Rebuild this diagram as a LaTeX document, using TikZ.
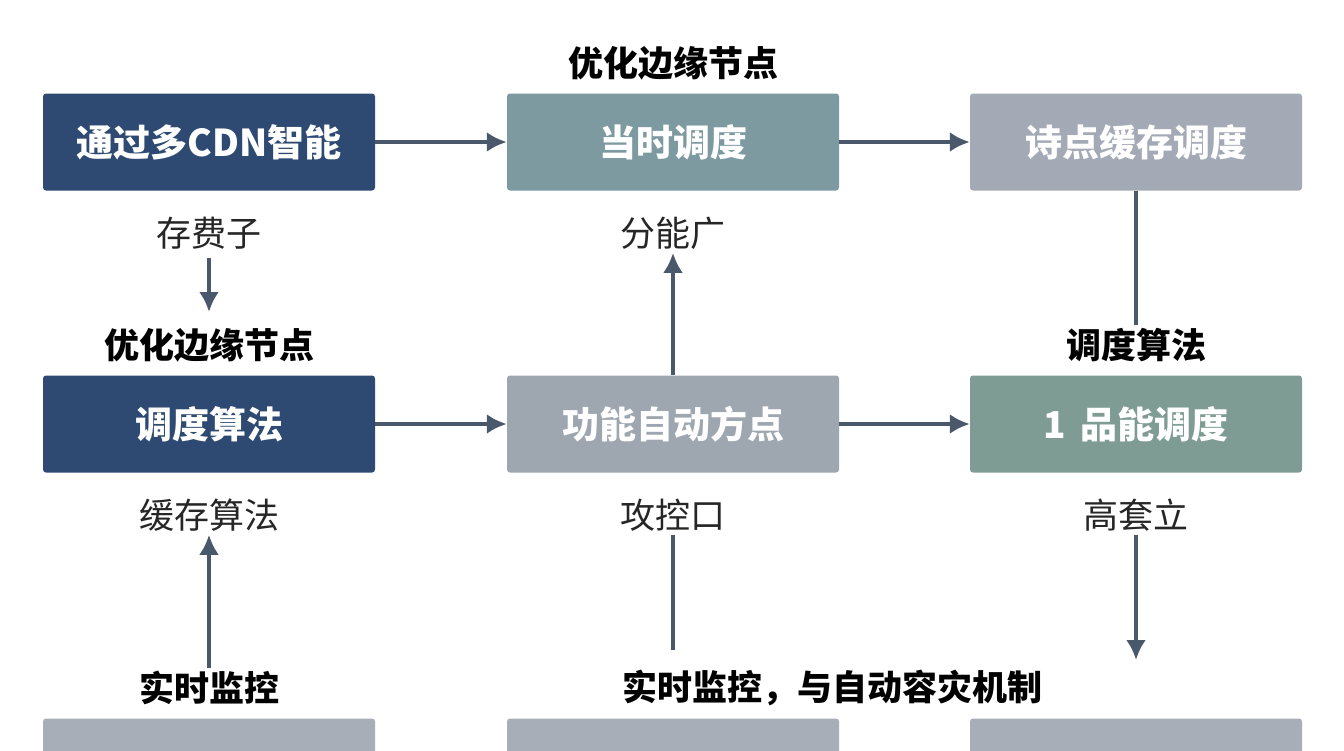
\documentclass[tikz,border=0pt]{standalone}
\usepackage{fontspec}
\usetikzlibrary{arrows.meta}
\setmainfont{Noto Sans CJK SC}
\definecolor{navy}{HTML}{2E4A72}
\definecolor{teal}{HTML}{7D9AA0}
\definecolor{lgrey}{HTML}{A3A9B5}
\definecolor{mgrey}{HTML}{9EA7B0}
\definecolor{sage}{HTML}{7F9C94}
\definecolor{bgrey}{HTML}{A8AEB8}
\definecolor{arrc}{HTML}{4A586C}
\begin{document}
\begin{tikzpicture}[x=1pt,y=-1pt,
  box/.style={rounded corners=3pt,minimum width=332pt,minimum height=97pt,inner sep=0pt,text=white,font=\fontsize{37}{40}\selectfont\bfseries},
  lab/.style={font=\fontsize{35}{38}\selectfont,text=black!85},
  blab/.style={font=\fontsize{35}{38}\selectfont\bfseries,text=black},
  arr/.style={draw=arrc,line width=4pt,-{Latex[length=20pt,width=20pt]}},
  ln/.style={draw=arrc,line width=4pt}]
\clip (0,0) rectangle (1344,750);
\fill[white] (0,0) rectangle (1344,750);
\node[box,fill=navy] (a1) at (209,142) {通过多CDN智能};
\node[box,fill=teal] (a2) at (673,142) {当时调度};
\node[box,fill=lgrey] (a3) at (1136,142) {诗点缓存调度};
\node[box,fill=navy] (b1) at (209,424) {调度算法};
\node[box,fill=mgrey] (b2) at (673,424) {功能自动方点};
\node[box,fill=sage] (b3) at (1136,424) {1\, 品能调度};
\node[box,fill=bgrey] (c1) at (209,767) {};
\node[box,fill=bgrey] (c2) at (673,767) {};
\node[box,fill=bgrey] (c3) at (1136,767) {};
\node[blab] (t2) at (673,63) {优化边缘节点};
\node[lab] (l1) at (209,233) {存费子};
\node[blab] (t1) at (209,345) {优化边缘节点};
\node[lab] (l2) at (673,233) {分能广};
\node[blab] (t3) at (1136,345) {调度算法};
\node[lab] (m1) at (209,515) {缓存算法};
\node[lab] (m2) at (673,515) {攻控口};
\node[lab] (m3) at (1136,515) {高套立};
\node[blab] (s1) at (209,688) {实时监控};
\node[blab] (s2) at (832,688) {实时监控，与自动容灾机制};
\coordinate (p1) at (209,258);
\coordinate (p2) at (209,312);
\coordinate (q2) at (673,650);
\coordinate (q3) at (1136,660);
\draw[arr] (a1) -- (a2);
\draw[arr] (a2) -- (a3);
\draw[arr] (b1) -- (b2);
\draw[arr] (b2) -- (b3);
\draw[arr] (p1) -- (p2);
\draw[arr] (b2.north) -- (l2.south);
\draw[ln] (a3.south) -- (t3.north);
\draw[arr] (s1.north) -- (m1.south);
\draw[ln] (q2) -- (m2.south);
\draw[arr] (m3.south) -- (q3);
\end{tikzpicture}
\end{document}
